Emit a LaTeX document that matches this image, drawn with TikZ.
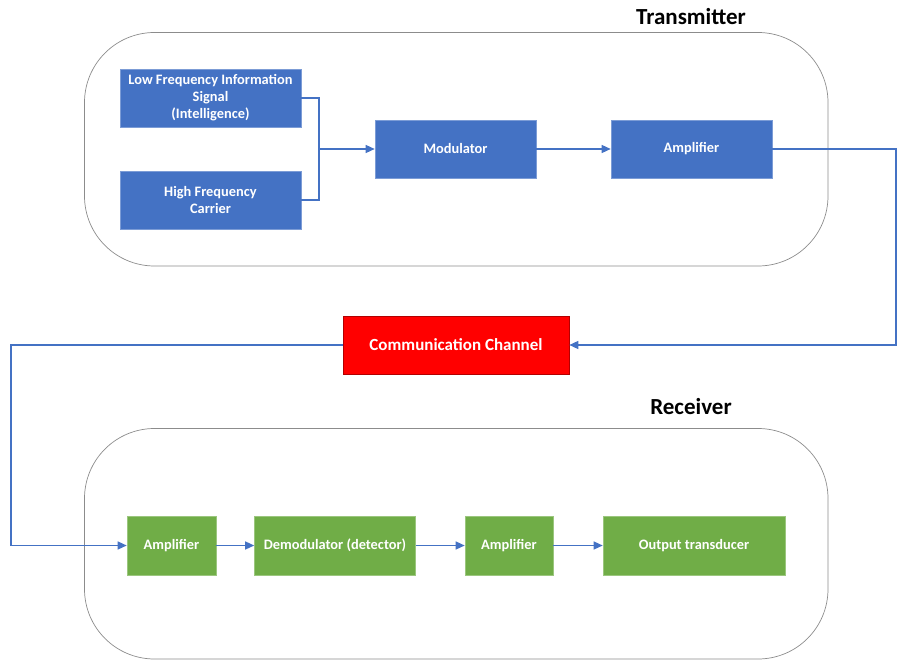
\documentclass[tikz,border=0pt]{standalone}
\usepackage{fontspec}
\setmainfont{Carlito}
\usetikzlibrary{arrows.meta}
\definecolor{bluebox}{HTML}{4472C4}
\definecolor{greenbox}{HTML}{70AD47}
\definecolor{redbox}{HTML}{FF0000}
\definecolor{conn}{HTML}{4472C4}
\begin{document}
\begin{tikzpicture}[x=1pt,y=-1pt,
  blk/.style={rectangle, inner sep=0pt, font=\fontsize{14.4}{17}\selectfont\bfseries, text=white, align=center, line width=0.6pt},
  bblk/.style={blk, fill=bluebox, draw=bluebox!70!white},
  gblk/.style={blk, fill=greenbox, draw=greenbox!70!white},
  rblk/.style={blk, fill=redbox, draw=redbox!70!black, font=\fontsize{17}{20}\selectfont\bfseries},
  conline/.style={draw=conn, line width=1.3pt},
  arr/.style={conline, -{Triangle[length=9pt,width=8pt]}},
  group/.style={draw=black!45, line width=0.7pt, rounded corners=70pt},
  ttl/.style={font=\fontsize{23}{27}\selectfont\bfseries, text=black}]
\useasboundingbox (0,0) rectangle (897,660);
% groups
\draw[group] (84.5,32.5) rectangle (828,266);
\draw[group] (84.5,428.5) rectangle (828,659);
\node[ttl] (ttx) at (691,17) {Transmitter};
\node[ttl] (trx) at (691,407) {Receiver};
% transmitter blocks
\node[bblk, minimum width=181pt, minimum height=58pt] (lf) at (210.5,98) {Low Frequency Information\\Signal\\(Intelligence)};
\node[bblk, minimum width=181pt, minimum height=58pt] (hf) at (210.5,200) {High Frequency\\Carrier};
\node[bblk, minimum width=161pt, minimum height=58pt] (mod) at (455.5,149) {Modulator};
\node[bblk, minimum width=161pt, minimum height=58pt] (amp1) at (691.5,149) {Amplifier};
% channel
\node[rblk, minimum width=226pt, minimum height=58pt] (ch) at (456,345) {Communication Channel};
% receiver blocks
\node[gblk, minimum width=89pt, minimum height=59pt] (amp2) at (171.5,545.5) {Amplifier};
\node[gblk, minimum width=161pt, minimum height=59pt] (dem) at (335,545.5) {Demodulator (detector)};
\node[gblk, minimum width=88pt, minimum height=59pt] (amp3) at (509,545.5) {Amplifier};
\node[gblk, minimum width=182pt, minimum height=59pt] (out) at (694,545.5) {Output transducer};
% connectors
\coordinate (j) at (319,149);
\draw[conline] (lf.east) -| (j);
\draw[conline] (hf.east) -| (j);
\draw[arr] (j) -- (mod.west);
\draw[arr] (mod.east) -- (amp1.west);
\coordinate (r1) at (896,149);
\coordinate (r2) at (896,345);
\draw[arr] (amp1.east) -- (r1) -- (r2) -- (ch.east);
\coordinate (l1) at (11,345);
\coordinate (l2) at (11,545.5);
\draw[arr] (ch.west) -- (l1) -- (l2) -- (amp2.west);
\draw[arr] (amp2.east) -- (dem.west);
\draw[arr] (dem.east) -- (amp3.west);
\draw[arr] (amp3.east) -- (out.west);
\end{tikzpicture}
\end{document}
